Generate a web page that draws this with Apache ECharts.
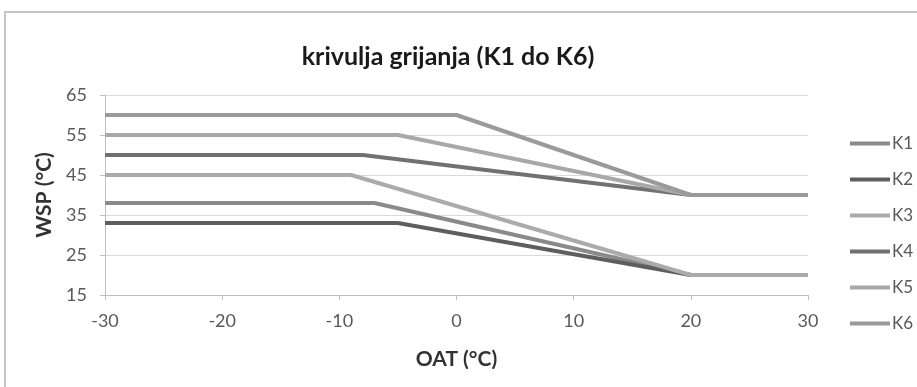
<!DOCTYPE html>
<html>
<head>
<meta charset="utf-8">
<script src="https://cdn.jsdelivr.net/npm/echarts@6/dist/echarts.min.js"></script>
<style>html,body{margin:0;padding:0;background:#fff;}#c{width:917px;height:387px;}</style>
</head>
<body>
<div id="c"></div>
<script>
const seriesNames = ['K1', 'K2', 'K3', 'K4', 'K5', 'K6'];
const oatK1 = [-30, -7, 20, 30], wspK1 = [38, 38, 20, 20];
const oatK2 = [-30, -5, 20, 30], wspK2 = [33, 33, 20, 20];
const oatK3 = [-30, -9, 20, 30], wspK3 = [45, 45, 20, 20];
const oatK4 = [-30, -8, 20, 30], wspK4 = [50, 50, 40, 40];
const oatK5 = [-30, -5, 20, 30], wspK5 = [55, 55, 40, 40];
const oatK6 = [-30, 0, 20, 30], wspK6 = [60, 60, 40, 40];
const xTicks = [-30, -20, -10, 0, 10, 20, 30];
const yTicks = [15, 25, 35, 45, 55, 65];

const oats = [oatK1, oatK2, oatK3, oatK4, oatK5, oatK6];
const wsps = [wspK1, wspK2, wspK3, wspK4, wspK5, wspK6];
const colors = ['#8a8a8a', '#5e5e5e', '#ababab', '#717171', '#a8a8a8', '#9a9a9a'];
const FONT = 'Lato';

const chart = echarts.init(document.getElementById('c'), null, {renderer: 'canvas'});
chart.setOption({
  animation: false,
  backgroundColor: '#fff',
  textStyle: {fontFamily: FONT},
  title: {
    text: 'krivulja grijanja (K1 do K6)',
    left: 443, top: 39, textAlign: 'center',
    textStyle: {fontFamily: FONT, fontSize: 25, fontWeight: 'bold', color: '#1a1a1a'}
  },
  graphic: [{
    type: 'rect', silent: true, z: -1,
    shape: {x: 5, y: 12, width: 1000, height: 1000},
    style: {fill: 'none', stroke: '#c4c4c4', lineWidth: 2}
  }],
  grid: {left: 105, right: 109, top: 95, bottom: 92, containLabel: false},
  legend: {
    orient: 'vertical', left: 845, top: 130,
    itemWidth: 40, itemHeight: 4, itemGap: 19, icon: 'rect',
    textStyle: {fontFamily: FONT, fontSize: 17, color: '#595959', padding: [0, 0, 0, -3]},
    data: seriesNames
  },
  xAxis: {
    type: 'value', min: xTicks[0], max: xTicks[xTicks.length - 1], interval: 10,
    name: 'OAT (°C)', nameLocation: 'middle', nameGap: 54,
    nameTextStyle: {fontFamily: FONT, fontSize: 21, fontWeight: 'bold', color: '#333'},
    axisLine: {show: true, onZero: false, lineStyle: {color: '#bfbfbf', width: 1}},
    axisTick: {show: true, length: 5, lineStyle: {color: '#bfbfbf'}},
    axisLabel: {fontFamily: FONT, fontSize: 18, color: '#595959', margin: 17},
    splitLine: {show: false}
  },
  yAxis: {
    type: 'value', min: yTicks[0], max: yTicks[yTicks.length - 1], interval: 10,
    name: 'WSP (°C)', nameLocation: 'middle', nameGap: 46, nameRotate: 90,
    nameTextStyle: {fontFamily: FONT, fontSize: 21, fontWeight: 'bold', color: '#333'},
    axisLine: {show: true, onZero: false, lineStyle: {color: '#bfbfbf', width: 1}},
    axisTick: {show: true, length: 5, lineStyle: {color: '#bfbfbf'}},
    axisLabel: {fontFamily: FONT, fontSize: 18, color: '#595959', margin: 18},
    splitLine: {show: true, lineStyle: {color: '#d9d9d9', width: 1}}
  },
  series: seriesNames.map((n, i) => ({
    name: n, type: 'line', symbol: 'none', color: colors[i],
    lineStyle: {width: 4, color: colors[i]},
    data: oats[i].map((x, j) => [x, wsps[i][j]])
  }))
});
</script>
</body>
</html>
